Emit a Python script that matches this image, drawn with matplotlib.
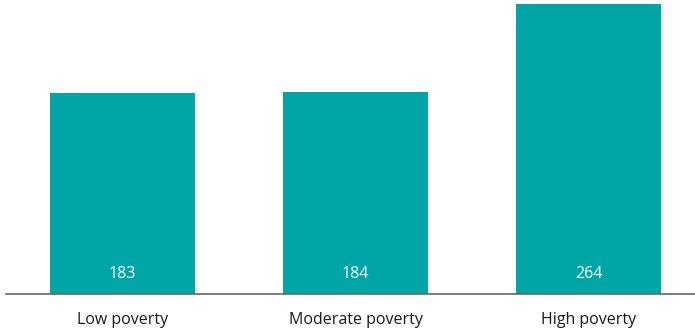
import matplotlib.pyplot as plt

plt.rcParams['font.family'] = ['Open Sans', 'DejaVu Sans']

categories = ['Low poverty', 'Moderate poverty', 'High poverty']
values = [183, 184, 264]

bar_color = '#00A5A5'

fig = plt.figure(figsize=(6.95, 3.30), dpi=100)
ax = fig.add_axes([6 / 695, 36 / 330, 689 / 695, 294 / 330])

x = list(range(len(categories)))
bars = ax.bar(x, values, width=0.622, color=bar_color)

# value labels inside the bars, near the base
for xi, v in zip(x, values):
    ax.text(xi, 18.5, str(v), ha='center', va='center', color='white', fontsize=11.5)

ax.set_xlim(-0.5, 2.457)
ax.set_ylim(0, 267.6)

for side in ['top', 'right', 'left']:
    ax.spines[side].set_visible(False)
ax.spines['bottom'].set_color('#666666')
ax.spines['bottom'].set_linewidth(1.2)

ax.set_yticks([])
ax.set_xticks(x)
ax.set_xticklabels(categories, fontsize=11.5, color='#1a1a1a')
ax.tick_params(axis='x', length=0, pad=13)

fig.savefig('out.png', dpi=100)
